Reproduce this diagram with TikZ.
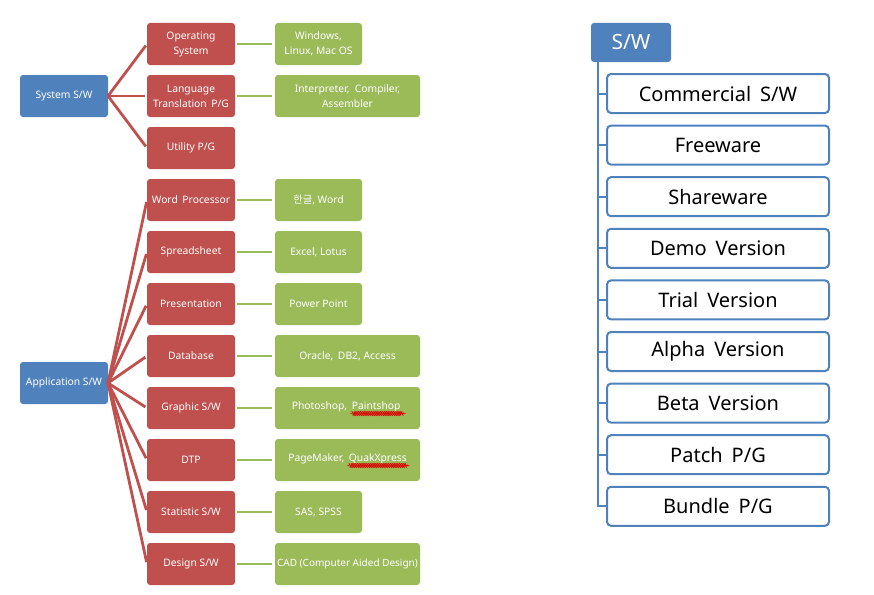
\documentclass[tikz,border=0pt]{standalone}
\usepackage{fontspec}
\setmainfont{Noto Sans}
\newfontfamily\kofont{Noto Sans CJK KR}
\usetikzlibrary{positioning}
\usetikzlibrary{decorations.pathmorphing}
\definecolor{ColorBlue}{HTML}{4F81BD}
\definecolor{ColorRed}{HTML}{C0504D}
\definecolor{ColorGreen}{HTML}{9BBB59}
\newsavebox\spellbox
\newcommand{\spellmark}[1]{\sbox\spellbox{#1}\rlap{\usebox\spellbox}%
	\makebox[\wd\spellbox][l]{\raisebox{-4.5pt}{\tikz\draw[red!85!black, line width=0.4pt, decorate,
		decoration={snake, amplitude=0.5pt, segment length=2.2pt}] (0pt,0pt) -- (\wd\spellbox,0pt);}}}
\newcommand{\wsp}{\hspace{0.45em}}

\begin{document}
\begin{tikzpicture}[x=1pt,y=1pt,
	box/.style={rectangle, rounded corners=3pt, inner sep=1pt, outer sep=0pt, text=white,
		minimum height=42pt, align=center, font=\fontsize{10.3}{15}\selectfont},
	root/.style={box, fill=ColorBlue, minimum width=88pt},
	cat/.style={box, fill=ColorRed, minimum width=88pt},
	ex/.style={box, fill=ColorGreen, minimum width=87pt},
	exwide/.style={box, fill=ColorGreen, minimum width=145pt},
	kind/.style={rectangle, rounded corners=4pt, draw=ColorBlue, line width=2pt, fill=white,
		minimum width=222pt, minimum height=39pt, font=\fontsize{20}{24}\selectfont},
	top/.style={rectangle, rounded corners=3pt, fill=ColorBlue, text=white, outer sep=0pt,
		minimum width=80pt, minimum height=39pt, font=\fontsize{21}{24}\selectfont},
	branch/.style={draw=ColorRed, line width=2.8pt, shorten >=2pt},
	leaf/.style={draw=ColorGreen, line width=2.5pt, shorten >=3pt, shorten <=2pt},
	tree/.style={draw=ColorBlue, line width=2pt}]

	\useasboundingbox (0,0) rectangle (874,-594);

	% Roots
	\node[root] (Sys) at (64,-96) {System S/W};
	\node[root] (App) at (64,-383) {Application S/W};

	% Categories
	\node[cat] (OS) at (191,-44) {Operating\\System};
	\node[cat, below = 10pt of OS] (LT) {Language\\Translation\wsp P/G};
	\node[cat, below = 10pt of LT] (UT) {Utility P/G};
	\node[cat, below = 10pt of UT] (WP) {Word\wsp Processor};
	\node[cat, below = 10pt of WP] (SS) {Spreadsheet};
	\node[cat, below = 10pt of SS] (PR) {Presentation};
	\node[cat, below = 10pt of PR] (DB) {Database};
	\node[cat, below = 10pt of DB] (GR) {Graphic S/W};
	\node[cat, below = 10pt of GR] (DTP) {DTP};
	\node[cat, below = 10pt of DTP] (ST) {Statistic S/W};
	\node[cat, below = 10pt of ST] (DS) {Design S/W};

	% Examples
	\node[ex, right = 40pt of OS] (xOS) {Windows,\\Linux, Mac OS};
	\node[exwide, right = 40pt of LT] (xLT) {Interpreter,\ \ Compiler,\\Assembler};
	\node[ex, right = 40pt of WP] (xWP) {{\kofont 한글}, Word};
	\node[ex, right = 40pt of SS] (xSS) {Excel, Lotus};
	\node[ex, right = 40pt of PR] (xPR) {Power Point};
	\node[exwide, right = 40pt of DB] (xDB) {Oracle,\wsp DB2, Access};
	\node[exwide, right = 40pt of GR] (xGR) {Photoshop,\wsp\spellmark{Paintshop\ }};
	\node[exwide, right = 40pt of DTP] (xDTP) {PageMaker,\wsp\spellmark{QuakXpress}};
	\node[ex, right = 40pt of ST] (xST) {SAS, SPSS};
	\node[exwide, right = 40pt of DS, font=\fontsize{10}{15}\selectfont] (xDS) {CAD (Computer Aided Design)};

	% System branches
	\path[branch] (Sys.east) to (OS.west);
	\path[branch] (Sys.east) to (LT.west);
	\path[branch] (Sys.east) to (UT.west);

	% Application branches
	\path[branch] (App.east) to (WP.west);
	\path[branch] (App.east) to (SS.west);
	\path[branch] (App.east) to (PR.west);
	\path[branch] (App.east) to (DB.west);
	\path[branch] (App.east) to (GR.west);
	\path[branch] (App.east) to (DTP.west);
	\path[branch] (App.east) to (ST.west);
	\path[branch] (App.east) to (DS.west);

	% Leaves
	\path[leaf] (OS) to (xOS);
	\path[leaf] (LT) to (xLT);
	\path[leaf] (WP) to (xWP);
	\path[leaf] (SS) to (xSS);
	\path[leaf] (PR) to (xPR);
	\path[leaf] (DB) to (xDB);
	\path[leaf] (GR) to (xGR);
	\path[leaf] (DTP) to (xDTP);
	\path[leaf] (ST) to (xST);
	\path[leaf] (DS) to (xDS);

	% Kinds of S/W
	\node[top] (SW) at (631,-42.5) {S/W};
	\node[kind] (K1) at (718,-93.5) {Commercial\wsp S/W};
	\node[kind, below = 10.6pt of K1] (K2) {Freeware};
	\node[kind, below = 10.6pt of K2] (K3) {Shareware};
	\node[kind, below = 10.6pt of K3] (K4) {Demo\wsp Version};
	\node[kind, below = 10.6pt of K4] (K5) {Trial\wsp Version};
	\node[kind, below = 10.6pt of K5] (K6) {Alpha\wsp Version};
	\node[kind, below = 10.6pt of K6] (K7) {Beta\wsp Version};
	\node[kind, below = 10.6pt of K7] (K8) {Patch\wsp P/G};
	\node[kind, below = 10.6pt of K8] (K9) {Bundle\wsp P/G};

	\coordinate (trunk) at (598,-62);
	\path[tree] (trunk) |- (K9.west);
	\path[tree] (trunk |- K1.west) -- (K1.west);
	\path[tree] (trunk |- K2.west) -- (K2.west);
	\path[tree] (trunk |- K3.west) -- (K3.west);
	\path[tree] (trunk |- K4.west) -- (K4.west);
	\path[tree] (trunk |- K5.west) -- (K5.west);
	\path[tree] (trunk |- K6.west) -- (K6.west);
	\path[tree] (trunk |- K7.west) -- (K7.west);
	\path[tree] (trunk |- K8.west) -- (K8.west);
\end{tikzpicture}
\end{document}
